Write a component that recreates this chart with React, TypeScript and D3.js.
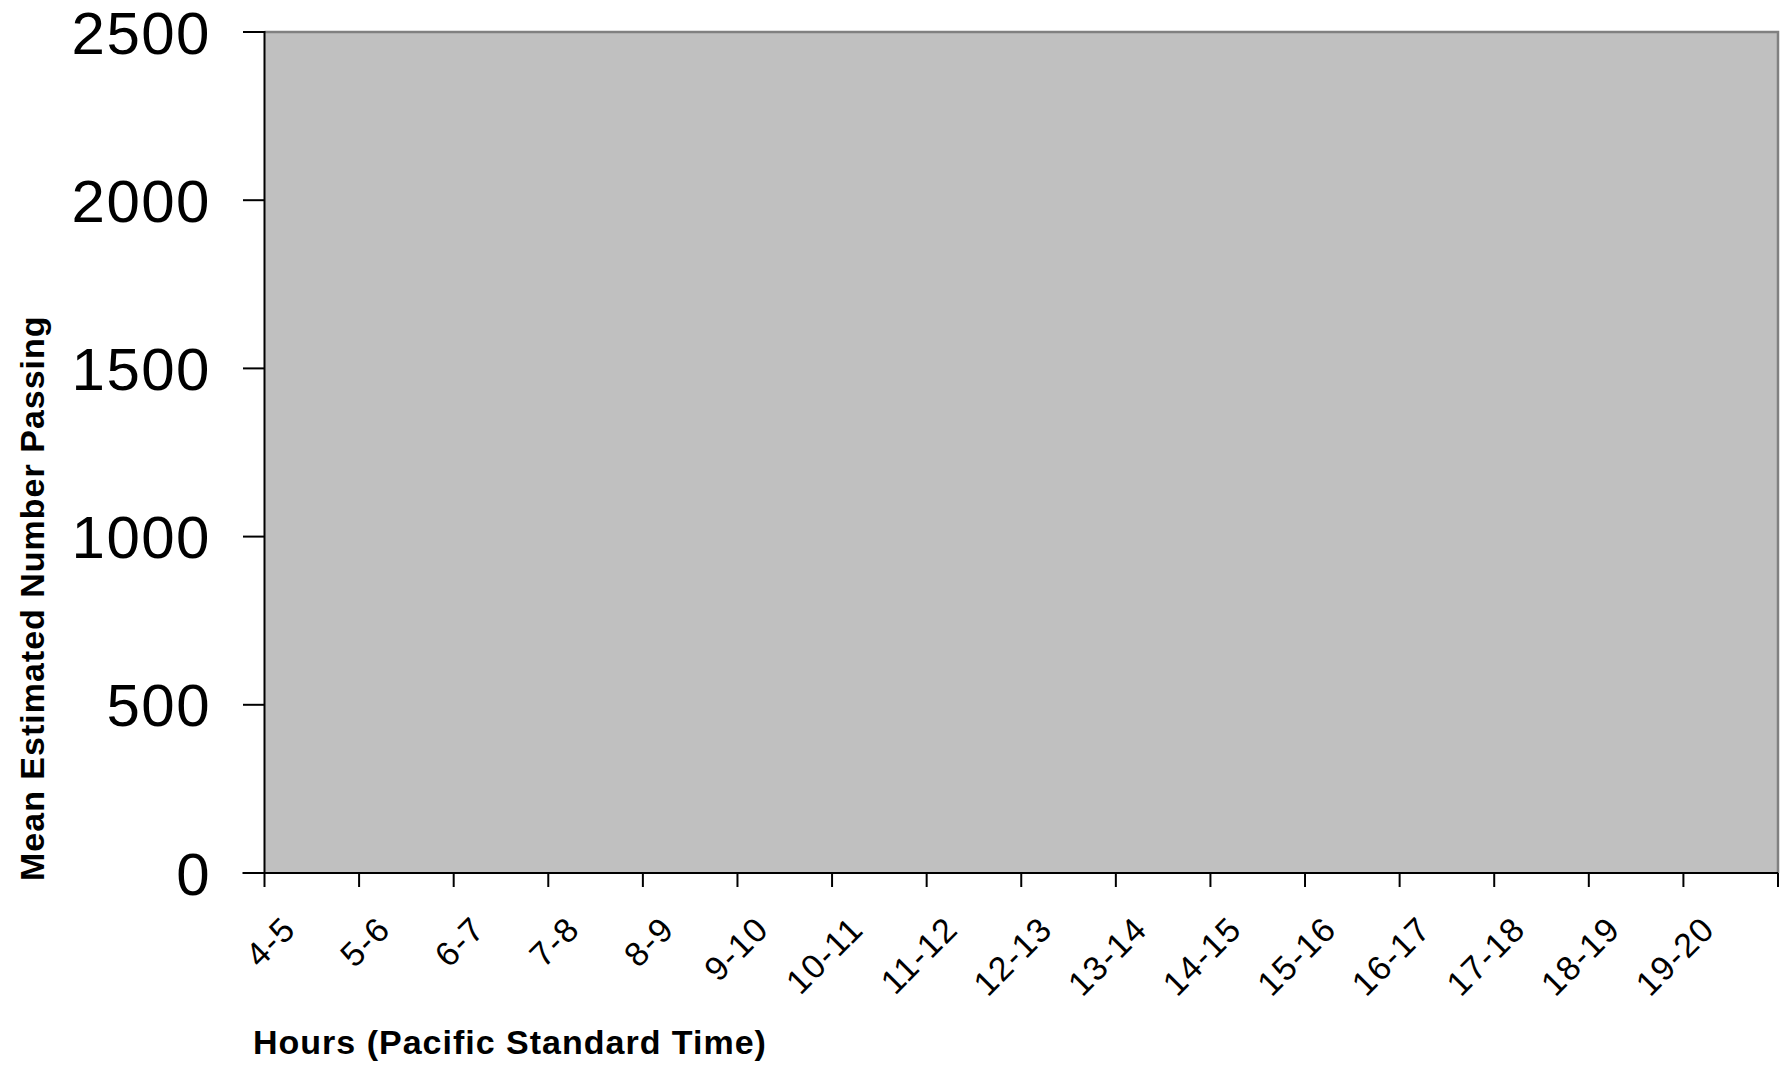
import React from "react";
import * as d3 from "d3";

const hourBands: string[] = [
  "4-5", "5-6", "6-7", "7-8", "8-9", "9-10", "10-11", "11-12",
  "12-13", "13-14", "14-15", "15-16", "16-17", "17-18", "18-19", "19-20",
];
const yTickValues: number[] = [0, 500, 1000, 1500, 2000, 2500];
const yDomain: [number, number] = [0, 2500];
const xTitle = "Hours (Pacific Standard Time)";
const yTitle = "Mean Estimated Number Passing";

const W = 1787;
const H = 1066;
const M = { left: 264.5, top: 32, right: 1778, bottom: 873 };
const FONT = "'Liberation Sans', Arial, sans-serif";

export default function App() {
  const x = d3.scaleBand<string>().domain(hourBands).range([M.left, M.right]).padding(0);
  const y = d3.scaleLinear().domain(yDomain).range([M.bottom, M.top]);
  const bw = x.bandwidth();
  const boundaries = [...hourBands.map((c) => x(c) as number), M.right];

  return (
    <svg
      width={W}
      height={H}
      style={{ position: "absolute", left: 0, top: 0, background: "#fff" }}
      fontFamily={FONT}
    >
      <rect x={M.left} y={M.top} width={M.right - M.left} height={M.bottom - M.top} fill="#C0C0C0" />
      <path
        d={`M${M.left},${M.top}H${M.right}V${M.bottom}`}
        fill="none"
        stroke="#808080"
        strokeWidth={2.5}
      />
      <line x1={M.left} x2={M.left} y1={M.top - 1} y2={M.bottom} stroke="#000" strokeWidth={2} />
      {yTickValues.map((v) => (
        <g key={v}>
          <line x1={243} x2={M.left} y1={y(v)} y2={y(v)} stroke="#000" strokeWidth={2} />
          <text
            x={211}
            y={y(v)}
            dy="0.36em"
            textAnchor="end"
            fontSize={60}
            letterSpacing={1.5}
            fill="#000"
          >
            {v}
          </text>
        </g>
      ))}
      <line x1={M.left - 22} x2={M.right} y1={M.bottom} y2={M.bottom} stroke="#000" strokeWidth={2} />
      {boundaries.map((bx, i) => (
        <line key={i} x1={bx} x2={bx} y1={M.bottom} y2={M.bottom + 14} stroke="#000" strokeWidth={2} />
      ))}
      {hourBands.map((c) => {
        const cx = (x(c) as number) + bw / 2;
        const px = cx - 14;
        const py = M.bottom + 58;
        return (
          <text
            key={c}
            x={px}
            y={py}
            textAnchor="end"
            fontSize={34}
            letterSpacing={1.5}
            fill="#000"
            transform={`rotate(-45 ${px} ${py})`}
          >
            {c}
          </text>
        );
      })}
      <text x={253} y={1054} fontSize={34} letterSpacing={1} fontWeight="bold" fill="#000">
        {xTitle}
      </text>
      <text
        x={0}
        y={0}
        fontSize={34}
        letterSpacing={1}
        fontWeight="bold"
        fill="#000"
        transform={`translate(44,881) rotate(-90)`}
      >
        {yTitle}
      </text>
    </svg>
  );
}
